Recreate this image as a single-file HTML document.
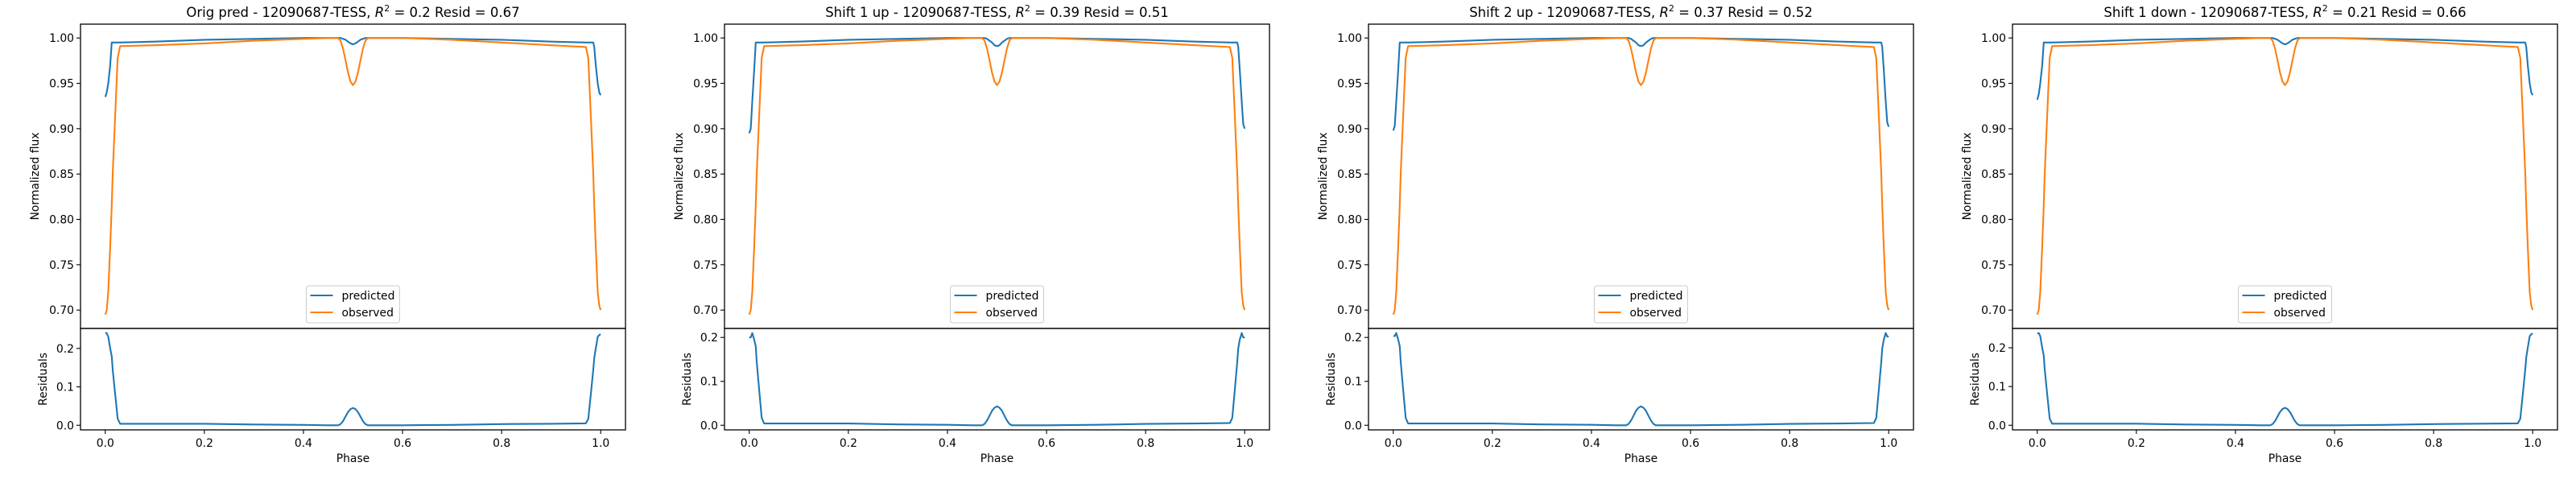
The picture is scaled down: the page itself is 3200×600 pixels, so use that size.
<!DOCTYPE html>
<html><head><meta charset="utf-8">
<style>
html,body{margin:0;padding:0;background:#fff;}
svg{display:block;font-family:"DejaVu Sans","Liberation Sans",sans-serif;}
</style></head>
<body>
<svg id="fig" width="3200" height="600" viewBox="0 0 3200 600" xmlns="http://www.w3.org/2000/svg"></svg>
<script>
const phase = [0,0.003,0.006,0.01,0.013,0.015,0.02,0.025,0.03,0.1,0.2,0.3,0.4,0.45,0.47,0.475,0.48,0.485,0.49,0.495,0.5,0.505,0.51,0.515,0.52,0.525,0.53,0.6,0.7,0.8,0.9,0.97,0.975,0.98,0.985,0.987,0.99,0.994,0.997,1.0];
const observed = [0.695,0.70,0.72,0.77,0.815,0.85,0.915,0.978,0.991,0.992,0.994,0.997,0.999,1.0,1.0,0.997,0.988,0.975,0.962,0.952,0.948,0.952,0.962,0.975,0.988,0.997,1.0,1.0,0.998,0.995,0.992,0.99,0.978,0.915,0.85,0.815,0.77,0.72,0.705,0.70];
const predOrig = [0.935,0.94,0.95,0.97,0.995,0.995,0.995,0.995,0.995,0.996,0.998,0.999,1.0,1.0,1.0,1.0,0.999,0.998,0.996,0.994,0.993,0.994,0.996,0.998,0.999,1.0,1.0,1.0,0.999,0.998,0.996,0.995,0.995,0.995,0.995,0.99,0.97,0.95,0.94,0.937];
const predShift1Up = [0.895,0.90,0.93,0.965,0.995,0.995,0.995,0.995,0.995,0.996,0.998,0.999,1.0,1.0,1.0,1.0,0.999,0.997,0.995,0.992,0.991,0.992,0.995,0.997,0.999,1.0,1.0,1.0,0.999,0.998,0.996,0.995,0.995,0.995,0.995,0.99,0.965,0.93,0.905,0.90];
const predShift2Up = [0.898,0.903,0.93,0.965,0.995,0.995,0.995,0.995,0.995,0.996,0.998,0.999,1.0,1.0,1.0,1.0,0.999,0.997,0.995,0.992,0.991,0.992,0.995,0.997,0.999,1.0,1.0,1.0,0.999,0.998,0.996,0.995,0.995,0.995,0.995,0.99,0.965,0.93,0.907,0.902];
const predShift1Down = [0.932,0.938,0.95,0.97,0.995,0.995,0.995,0.995,0.995,0.996,0.998,0.999,1.0,1.0,1.0,1.0,0.999,0.998,0.996,0.994,0.993,0.994,0.996,0.998,0.999,1.0,1.0,1.0,0.999,0.998,0.996,0.995,0.995,0.995,0.995,0.99,0.97,0.95,0.94,0.937];
const panelTitles = ["Orig pred - 12090687-TESS, ","Shift 1 up - 12090687-TESS, ","Shift 2 up - 12090687-TESS, ","Shift 1 down - 12090687-TESS, "];
const r2Values = ["0.2","0.39","0.37","0.21"];
const residValues = ["0.67","0.51","0.52","0.66"];
const xTicks = [0,0.2,0.4,0.6,0.8,1.0];
const xTickLabels = ["0.0","0.2","0.4","0.6","0.8","1.0"];
const fluxTicks = [0.70,0.75,0.80,0.85,0.90,0.95,1.00];
const fluxTickLabels = ["0.70","0.75","0.80","0.85","0.90","0.95","1.00"];
const residTicks = [0,0.1,0.2];
const residTickLabels = ["0.0","0.1","0.2"];

const preds = [predOrig,predShift1Up,predShift2Up,predShift1Down];
const NS = "http://www.w3.org/2000/svg";
const fig = document.getElementById('fig');
function mk(tag, attrs, parent, text){
  const e = document.createElementNS(NS, tag);
  for (const k in attrs) e.setAttribute(k, attrs[k]);
  if (text !== undefined) e.textContent = text;
  (parent||fig).appendChild(e);
  return e;
}
const BLUE="#1f77b4", ORANGE="#ff7f0e";
for (let p=0;p<4;p++){
  const pred = preds[p];
  const resid = pred.map((v,i)=>v-observed[i]);
  const L = 100+800*p, R = L+677, T = 30, S = 408, B = 534;
  const g = mk('g',{});
  
  
  const x = v => L + (v+0.05)/1.1*(R-L);
  const all = pred.concat(observed);
  let fmin = Math.min(...all), fmax = Math.max(...all), fr = fmax-fmin;
  const f0 = fmin-0.05*fr, f1 = fmax+0.05*fr;
  const yf = v => S - (v-f0)/(f1-f0)*(S-T);
  let rmin = Math.min(0,...resid), rmax = Math.max(...resid), rr = rmax-rmin;
  const r0 = rmin-0.05*rr, r1 = rmax+0.05*rr;
  const yr = v => B - (v-r0)/(r1-r0)*(B-S);
  const t = mk('text',{x:(L+R)/2,y:21,'text-anchor':'middle','font-size':'16.5px',fill:'#000'},g);
  
  
  mk('tspan',{},t,panelTitles[p]);
  mk('tspan',{'font-style':'italic'},t,'R');
  mk('tspan',{'font-size':'11px',dy:'-7'},t,'2');
  mk('tspan',{dy:'7'},t,' = '+r2Values[p]+' Resid = '+residValues[p]);
  const ptsP = phase.map((v,i)=>x(v).toFixed(1)+','+yf(pred[i]).toFixed(1)).join(' ');
  const ptsO = phase.map((v,i)=>x(v).toFixed(1)+','+yf(observed[i]).toFixed(1)).join(' ');
  const lp = mk('polyline',{points:ptsP,fill:'none',stroke:BLUE,'stroke-width':2.1,'stroke-linejoin':'round'},g);
  
  
  const lo = mk('polyline',{points:ptsO,fill:'none',stroke:ORANGE,'stroke-width':2.1,'stroke-linejoin':'round'},g);
  
  
  const ptsR = phase.map((v,i)=>x(v).toFixed(1)+','+yr(resid[i]).toFixed(1)).join(' ');
  const lr = mk('polyline',{points:ptsR,fill:'none',stroke:BLUE,'stroke-width':2.1,'stroke-linejoin':'round'},g);
  
  
  mk('rect',{x:L,y:T,width:R-L,height:S-T,fill:'none',stroke:'#000','stroke-width':1.3},g);
  mk('rect',{x:L,y:S,width:R-L,height:B-S,fill:'none',stroke:'#000','stroke-width':1.3},g);
  fluxTicks.forEach((v,i)=>{
    const yy = yf(v);
    mk('line',{x1:L-5,x2:L,y1:yy,y2:yy,stroke:'#000','stroke-width':1.1},g);
    const tl = mk('text',{x:L-8,y:yy+5,'text-anchor':'end','font-size':'13.9px'},g,fluxTickLabels[i]);
    
    
  });
  residTicks.forEach((v,i)=>{
    const yy = yr(v);
    mk('line',{x1:L-5,x2:L,y1:yy,y2:yy,stroke:'#000','stroke-width':1.1},g);
    const tl = mk('text',{x:L-8,y:yy+5,'text-anchor':'end','font-size':'13.9px'},g,residTickLabels[i]);
    
    
  });
  xTicks.forEach((v,i)=>{
    const xx = x(v);
    mk('line',{x1:xx,x2:xx,y1:B,y2:B+5,stroke:'#000','stroke-width':1.1},g);
    const tl = mk('text',{x:xx,y:B+21,'text-anchor':'middle','font-size':'13.9px'},g,xTickLabels[i]);
    
    
  });
  const xl = mk('text',{x:(L+R)/2,y:B+40,'text-anchor':'middle','font-size':'13.9px'},g,'Phase');
  
  
  const yl = mk('text',{x:0,y:0,transform:`translate(${L-52},${(T+S)/2}) rotate(-90)`,'text-anchor':'middle','font-size':'13.9px'},g,'Normalized flux');
  
  
  const rl = mk('text',{x:0,y:0,transform:`translate(${L-42},${(S+B)/2}) rotate(-90)`,'text-anchor':'middle','font-size':'13.9px'},g,'Residuals');
  
  
  const lg = mk('g',{},g);
  
  
  const lx = (L+R)/2 - 58;
  mk('rect',{x:lx,y:355,width:116,height:46,rx:3,fill:'#fff','fill-opacity':0.8,stroke:'#ccc','stroke-width':1},lg);
  mk('line',{x1:lx+5,x2:lx+33,y1:367,y2:367,stroke:BLUE,'stroke-width':2.1},lg);
  mk('line',{x1:lx+5,x2:lx+33,y1:388,y2:388,stroke:ORANGE,'stroke-width':2.1},lg);
  const le1 = mk('text',{x:lx+44,y:372,'font-size':'13.9px'},lg,'predicted');
  
  
  const le2 = mk('text',{x:lx+44,y:393,'font-size':'13.9px'},lg,'observed');
  
  
}
</script>
</body></html>
